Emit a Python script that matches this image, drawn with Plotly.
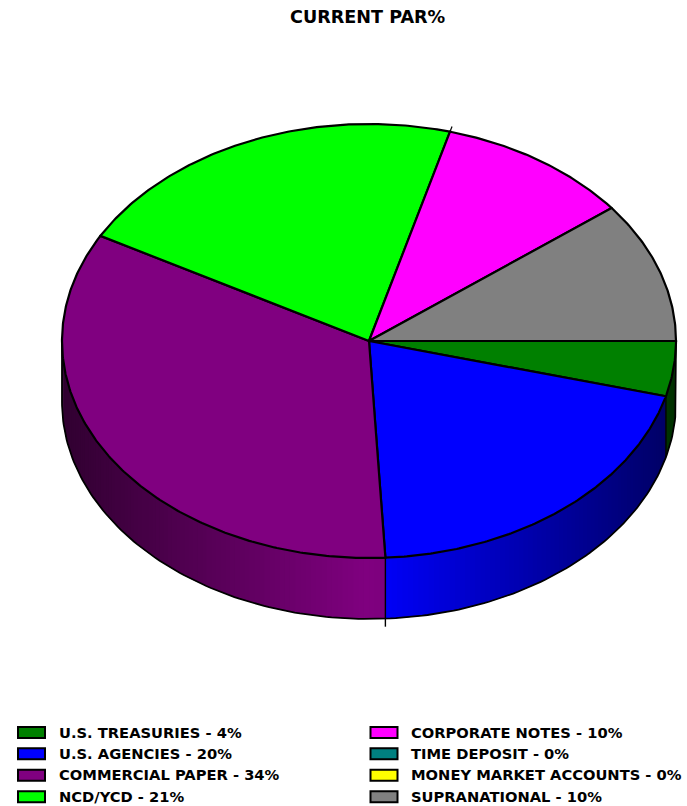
import math
import plotly.graph_objects as go

categories = ["U.S. TREASURIES", "U.S. AGENCIES", "COMMERCIAL PAPER", "NCD/YCD",
              "CORPORATE NOTES", "TIME DEPOSIT", "MONEY MARKET ACCOUNTS", "SUPRANATIONAL"]
shares = [4.1, 20.05, 33.9, 21.2, 10.25, 0.0, 0.0, 10.5]
labels_pct = [4, 20, 34, 21, 10, 0, 0, 10]
colors = [(0, 128, 0), (0, 0, 255), (128, 0, 128), (0, 255, 0),
          (255, 0, 255), (0, 128, 128), (255, 255, 0), (128, 128, 128)]

W, H = 687, 806
CX, CY, RX, RY, DEPTH = 369, 341, 307, 217, 61
FONT = "DejaVu Sans"


def pt(deg, y_off=0, k=1.0):
    a = math.radians(deg)
    return CX + k * RX * math.cos(a), CY + y_off + k * RY * math.sin(a)


def shade(c, deg):
    f = 1 - 0.62 * abs(math.cos(math.radians(deg)))
    return "rgb(%d,%d,%d)" % tuple(round(v * f) for v in c)


fig = go.Figure()
total = sum(shares)
edges = [0.0]
for s in shares:
    edges.append(edges[-1] + s / total * 360)

# side wall: visible half, thin shaded strips, each overlapping the next
STEP = 1.0
for i, c in enumerate(colors):
    a0, a1 = edges[i], min(edges[i + 1], 180)
    a = a0
    while a < a1 - 1e-6:
        b = min(a + STEP, a1)
        b2 = min(b + STEP, a1)
        xs, ys = zip(pt(a), pt(b), pt(b2), pt(b2, DEPTH), pt(b, DEPTH), pt(a, DEPTH), pt(a))
        col = shade(c, (a + b) / 2)
        fig.add_trace(go.Scatter(x=list(xs), y=list(ys), mode="lines", fill="toself",
                                 fillcolor=col, line=dict(width=0),
                                 hoverinfo="skip", showlegend=False))
        a = b

# side outline
arc = [pt(0)] + [pt(float(d), DEPTH) for d in range(0, 181)] + [pt(180)]
fig.add_trace(go.Scatter(x=[p[0] for p in arc], y=[p[1] for p in arc], mode="lines",
                         line=dict(color="black", width=1.8), hoverinfo="skip", showlegend=False))
for i in range(1, len(edges) - 1):
    d = edges[i]
    if 0 < d < 180:
        over = 8 if 60 < d < 120 else 0
        top, bot = pt(d), pt(d, DEPTH + over)
        fig.add_trace(go.Scatter(x=[top[0], bot[0]], y=[top[1], bot[1]], mode="lines",
                                 line=dict(color="black", width=1.4), hoverinfo="skip", showlegend=False))

# top face
for i, c in enumerate(colors):
    if shares[i] <= 0:
        continue
    n = max(int(edges[i + 1] - edges[i]) * 2, 2)
    ds = [edges[i] + (edges[i + 1] - edges[i]) * j / n for j in range(n + 1)]
    pts = [(CX, CY)] + [pt(d) for d in ds] + [(CX, CY)]
    fig.add_trace(go.Scatter(x=[p[0] for p in pts], y=[p[1] for p in pts], mode="lines",
                             fill="toself", fillcolor="rgb(%d,%d,%d)" % c,
                             line=dict(color="black", width=2.2), hoverinfo="skip", showlegend=False))

# small overshoot of one radial edge at the rim
d = edges[4]
p0, p1 = pt(d), pt(d, 0, 1.025)
fig.add_trace(go.Scatter(x=[p0[0], p1[0]], y=[p0[1], p1[1]], mode="lines",
                         line=dict(color="black", width=1.2), hoverinfo="skip", showlegend=False))

# legend
rows = [732.5, 753.8, 775.2, 796.8]
for i, name in enumerate(categories):
    col, row = i // 4, i % 4
    x0 = 18 if col == 0 else 370.5
    tx = 59 if col == 0 else 411
    y = rows[row]
    fig.add_shape(type="rect", x0=x0, x1=x0 + 27, y0=y - 5.5, y1=y + 5.5,
                  fillcolor="rgb(%d,%d,%d)" % colors[i], line=dict(color="black", width=2),
                  layer="above")
    fig.add_annotation(x=tx, y=y - 0.5, text="<b>%s - %d%%</b>" % (name, labels_pct[i]),
                       showarrow=False, xanchor="left", yanchor="middle", xshift=-2,
                       font=dict(family=FONT, size=14.7, color="black"))

fig.add_annotation(x=368, y=17, text="<b>CURRENT PAR%</b>", showarrow=False,
                   xanchor="center", yanchor="middle",
                   font=dict(family=FONT, size=17.6, color="black"))

fig.update_layout(width=W, height=H, margin=dict(l=0, r=0, t=0, b=0),
                  paper_bgcolor="white", plot_bgcolor="white", showlegend=False,
                  xaxis=dict(range=[0, W], visible=False, fixedrange=True),
                  yaxis=dict(range=[H, 0], visible=False, fixedrange=True))
fig.write_html("out.html", config=dict(displayModeBar=False),
               post_script="document.body.style.margin='0';document.documentElement.style.overflow='hidden';")
